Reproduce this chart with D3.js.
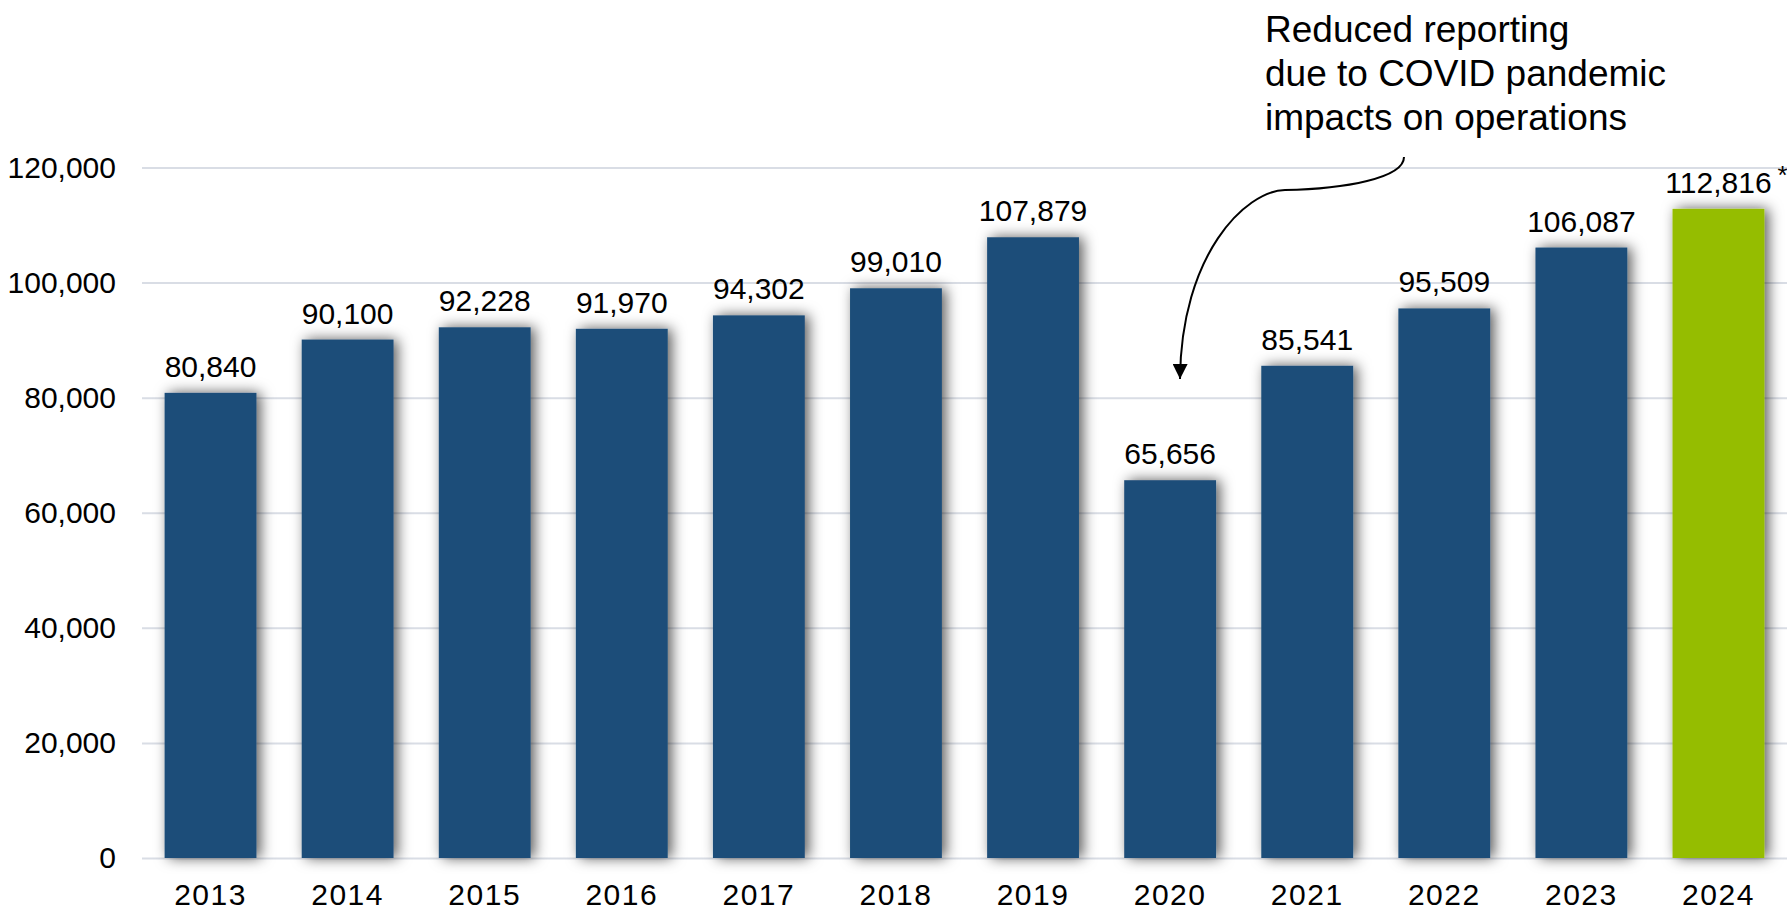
<!DOCTYPE html>
<html>
<head>
<meta charset="utf-8">
<script src="https://cdn.jsdelivr.net/npm/d3@7"></script>
<style>
  html, body { margin: 0; padding: 0; background: #fff; }
  svg { display: block; font-family: "Liberation Sans", Arial, sans-serif; }
</style>
</head>
<body>
<svg id="chart" width="1787" height="911"></svg>
<script>
const years = ["2013","2014","2015","2016","2017","2018","2019","2020","2021","2022","2023","2024"];
const values = [80840, 90100, 92228, 91970, 94302, 99010, 107879, 65656, 85541, 95509, 106087, 112816];
const yTicks = [0, 20000, 40000, 60000, 80000, 100000, 120000];
const annotationLines = ["Reduced reporting", "due to COVID pandemic", "impacts on operations"];
const highlightYear = "2024";
const footnoteMark = "*";

const svg = d3.select("#chart");
const plotLeft = 142, plotRight = 1787, yTop = 167.5, yBottom = 858;

const x = d3.scaleBand().domain(years).range([plotLeft, plotRight])
  .paddingInner(0.33).paddingOuter(0.165);
const y = d3.scaleLinear().domain([0, 120000]).range([yBottom, yTop]);
const fmt = d3.format(",");

const defs = svg.append("defs");
const f = defs.append("filter").attr("id", "shadow")
  .attr("x", "-40%").attr("y", "-15%").attr("width", "180%").attr("height", "130%");
f.append("feDropShadow").attr("dx", 4).attr("dy", 0).attr("stdDeviation", 7)
  .attr("flood-color", "#000").attr("flood-opacity", 0.65);

defs.append("marker").attr("id", "arrow").attr("viewBox", "0 0 10 10")
  .attr("refX", 10).attr("refY", 5).attr("markerWidth", 15).attr("markerHeight", 15)
  .attr("markerUnits", "userSpaceOnUse").attr("orient", "auto")
  .append("path").attr("d", "M0,0 L10,5 L0,10 Z").attr("fill", "#000");

// gridlines + y tick labels
const yAxis = d3.axisLeft(y).tickValues(yTicks).tickFormat(fmt)
  .tickSize(-(plotRight - plotLeft)).tickPadding(26);
const gy = svg.append("g").attr("transform", `translate(${plotLeft},0)`).call(yAxis);
gy.select(".domain").remove();
gy.selectAll(".tick line").attr("stroke", "#d9dde5").attr("stroke-width", 2);
gy.selectAll(".tick text").attr("font-size", 30).attr("fill", "#000")
  .attr("font-family", "Liberation Sans, Arial, sans-serif");

// bars
svg.append("g").selectAll("rect").data(years).join("rect")
  .attr("x", d => x(d))
  .attr("y", (d, i) => y(values[i]))
  .attr("width", x.bandwidth())
  .attr("height", (d, i) => y(0) - y(values[i]))
  .attr("fill", d => d === highlightYear ? "#95bd00" : "#1f4e79")
  .attr("filter", "url(#shadow)");

// value labels
svg.append("g").selectAll("text").data(years).join("text")
  .attr("x", d => x(d) + x.bandwidth() / 2)
  .attr("y", (d, i) => y(values[i]) - 16)
  .attr("text-anchor", "middle")
  .attr("font-size", 30).attr("fill", "#000")
  .text((d, i) => fmt(values[i]));

// footnote star
const lastIdx = years.indexOf(highlightYear);
svg.append("text")
  .attr("x", x(highlightYear) + x.bandwidth() / 2 + 59)
  .attr("y", y(values[lastIdx]) - 25)
  .attr("font-size", 26).attr("fill", "#000").text(footnoteMark);

// x axis labels
const xAxis = d3.axisBottom(x).tickSize(0).tickPadding(0);
const gx = svg.append("g").attr("transform", `translate(0,${yBottom})`).call(xAxis);
gx.select(".domain").remove();
gx.selectAll(".tick text").attr("font-size", 30).attr("fill", "#000")
  .attr("font-family", "Liberation Sans, Arial, sans-serif")
  .attr("letter-spacing", "1.5px").attr("dy", 0).attr("y", 47);

// annotation
const ann = svg.append("text").attr("x", 1265).attr("y", 42)
  .attr("font-size", 37).attr("fill", "#000");
annotationLines.forEach((t, i) => {
  ann.append("tspan").attr("x", 1265).attr("dy", i === 0 ? 0 : 44).text(t);
});

svg.append("path")
  .attr("d", "M1404,157 C1404,178 1345,189 1285,190 C1245,191 1181,255 1180,379")
  .attr("fill", "none").attr("stroke", "#000").attr("stroke-width", 2)
  .attr("marker-end", "url(#arrow)");
</script>
</body>
</html>
